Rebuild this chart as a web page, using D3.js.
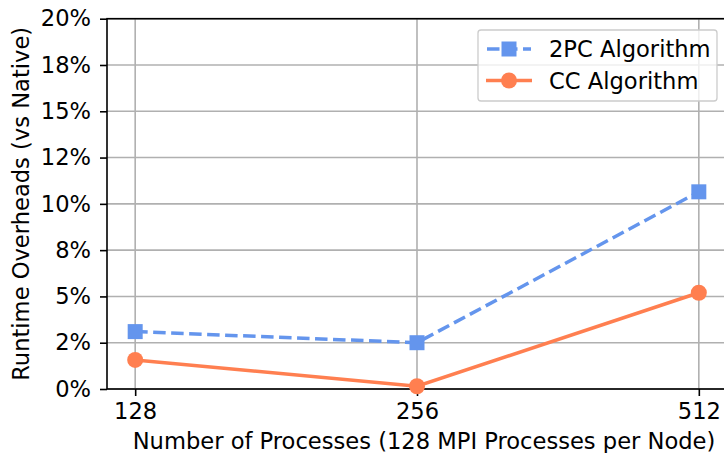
<!DOCTYPE html>
<html>
<head>
<meta charset="utf-8">
<script src="https://cdn.jsdelivr.net/npm/d3@7"></script>
<style>
  body { margin: 0; background: #fff; }
  text { font-family: "DejaVu Sans", sans-serif; fill: #000; }
</style>
</head>
<body>
<svg width="724" height="453"></svg>
<script>
var width = 724, height = 453;

var categories = ["128", "256", "512"];
var twoPC = [3.1, 2.5, 10.65];
var cc = [1.57, 0.15, 5.2];
var yTicks = [0, 2.5, 5, 7.5, 10, 12.5, 15, 17.5, 20];
var yTickLabels = ["0%", "2%", "5%", "8%", "10%", "12%", "15%", "18%", "20%"];

var margin = {top: 18.7, left: 107, bottom: 389, right: 727};
var fs = 22.6;

var svg = d3.select("svg");

var x = d3.scalePoint().domain(categories).range([margin.left, margin.right]).padding(0.1);
var y = d3.scaleLinear().domain([0, 20]).range([margin.bottom, margin.top]);

// grid
var grid = svg.append("g");
grid.selectAll(".gy").data(yTicks).enter().append("line")
  .attr("x1", margin.left).attr("x2", margin.right)
  .attr("y1", function(d) { return y(d); }).attr("y2", function(d) { return y(d); })
  .attr("stroke", "#b0b0b0").attr("stroke-width", 1.6);
grid.selectAll(".gx").data(categories).enter().append("line")
  .attr("x1", function(d) { return x(d); }).attr("x2", function(d) { return x(d); })
  .attr("y1", margin.top).attr("y2", margin.bottom)
  .attr("stroke", "#b0b0b0").attr("stroke-width", 1.6);

// axes
var xAxis = svg.append("g")
  .attr("transform", "translate(0," + margin.bottom + ")")
  .call(d3.axisBottom(x).tickSize(7).tickPadding(7));
var yAxis = svg.append("g")
  .attr("transform", "translate(" + margin.left + ",0)")
  .call(d3.axisLeft(y).tickValues(yTicks).tickSize(7).tickPadding(9)
    .tickFormat(function(d, i) { return yTickLabels[i]; }));

[xAxis, yAxis].forEach(function(a) {
  a.select(".domain").remove();
  a.selectAll(".tick line").attr("stroke", "#000").attr("stroke-width", 1.6);
  a.selectAll(".tick text").attr("font-size", fs).attr("font-family", "DejaVu Sans");
});

// spines
svg.append("rect")
  .attr("x", margin.left).attr("y", margin.top)
  .attr("width", margin.right - margin.left).attr("height", margin.bottom - margin.top)
  .attr("fill", "none").attr("stroke", "#000").attr("stroke-width", 1.6);

// labels
svg.append("text")
  .attr("x", 424).attr("y", 449)
  .attr("text-anchor", "middle").attr("font-size", fs)
  .text("Number of Processes (128 MPI Processes per Node)");
svg.append("text")
  .attr("transform", "translate(29," + ((margin.top + margin.bottom) / 2) + ") rotate(-90)")
  .attr("text-anchor", "middle").attr("font-size", fs)
  .text("Runtime Overheads (vs Native)");

// lines
var line = d3.line()
  .x(function(d, i) { return x(categories[i]); })
  .y(function(d) { return y(d); });

svg.append("path").datum(twoPC)
  .attr("d", line).attr("fill", "none")
  .attr("stroke", "#6495ED").attr("stroke-width", 3.5)
  .attr("stroke-dasharray", "12.5,5.5");
svg.append("path").datum(cc)
  .attr("d", line).attr("fill", "none")
  .attr("stroke", "#FF7F50").attr("stroke-width", 3.5);

var sq = 15;
svg.selectAll(".sq").data(twoPC).enter().append("rect")
  .attr("x", function(d, i) { return x(categories[i]) - sq / 2; })
  .attr("y", function(d) { return y(d) - sq / 2; })
  .attr("width", sq).attr("height", sq)
  .attr("fill", "#6495ED");
svg.selectAll(".ci").data(cc).enter().append("circle")
  .attr("cx", function(d, i) { return x(categories[i]); })
  .attr("cy", function(d) { return y(d); })
  .attr("r", 8)
  .attr("fill", "#FF7F50");

// legend
var lg = svg.append("g");
lg.append("rect")
  .attr("x", 478).attr("y", 30).attr("width", 239).attr("height", 71)
  .attr("rx", 3).attr("fill", "#fff").attr("fill-opacity", 0.8)
  .attr("stroke", "#cccccc").attr("stroke-width", 1.3);
lg.append("line").attr("x1", 487).attr("x2", 531).attr("y1", 49).attr("y2", 49)
  .attr("stroke", "#6495ED").attr("stroke-width", 3.5).attr("stroke-dasharray", "12.5,5.5");
lg.append("rect").attr("x", 509 - sq / 2).attr("y", 49 - sq / 2).attr("width", sq).attr("height", sq)
  .attr("fill", "#6495ED");
lg.append("line").attr("x1", 486).attr("x2", 532).attr("y1", 80.5).attr("y2", 80.5)
  .attr("stroke", "#FF7F50").attr("stroke-width", 3.5);
lg.append("circle").attr("cx", 509).attr("cy", 80.5).attr("r", 8).attr("fill", "#FF7F50");
lg.append("text").attr("x", 549).attr("y", 57).attr("font-size", fs).text("2PC Algorithm");
lg.append("text").attr("x", 549).attr("y", 89).attr("font-size", fs).text("CC Algorithm");
</script>
</body>
</html>
